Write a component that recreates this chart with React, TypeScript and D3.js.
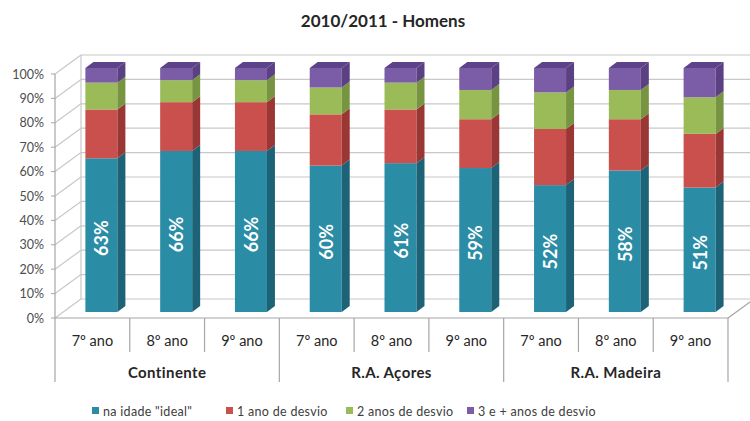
import React from "react";
import * as d3 from "d3";

const categories = ["7º ano", "8º ano", "9º ano", "7º ano", "8º ano", "9º ano", "7º ano", "8º ano", "9º ano"];
const groups = ["Continente", "R.A. Açores", "R.A. Madeira"];
const seriesNames = ['na idade "ideal"', "1 ano de desvio", "2 anos de desvio", "3 e + anos de desvio"];
const idealValues = [63, 66, 66, 60, 61, 59, 52, 58, 51];
const oneYearValues = [20, 20, 20, 21, 22, 20, 23, 21, 22];
const twoYearValues = [11, 9, 9, 11, 11, 12, 15, 12, 15];
const threePlusValues = [6, 5, 5, 8, 6, 9, 10, 9, 12];
const yTicks = [0, 10, 20, 30, 40, 50, 60, 70, 80, 90, 100];

const colors = [
  { front: "#2B8CA6", side: "#1D6377", top: "#237A91" },
  { front: "#C9504D", side: "#9A3634", top: "#B04442" },
  { front: "#9BBB59", side: "#779540", top: "#86A34A" },
  { front: "#7B5CA7", side: "#5B4084", top: "#5E4289" },
];

const FONT = "Lato, 'Open Sans', sans-serif";

export default function App() {
  const W = 750, H = 421;
  const left = 55, right = 728, y0 = 318, y100 = 74;
  const DX = 26, DY = -19; // wall depth
  const BOX = 9, BOY = -6; // bar front offset
  const BDX = 8, BDY = -6; // bar depth
  const BW = 32;

  const x = d3.scaleBand<number>().domain(d3.range(categories.length)).range([left, right]).padding(0);
  const y = d3.scaleLinear().domain([0, 100]).range([y0, y100]);

  const rows = categories.map((c, i) => ({ i, v0: idealValues[i], v1: oneYearValues[i], v2: twoYearValues[i], v3: threePlusValues[i] }));
  const stack = d3.stack<any>().keys(["v0", "v1", "v2", "v3"])(rows);

  const grid = "#C8C8C8";
  const axisC = "#A6A6A6";

  const bars: React.ReactNode[] = [];
  categories.forEach((_, i) => {
    const cx = (x(i) as number) + x.bandwidth() / 2;
    const fx = cx + BOX - BW / 2;
    stack.forEach((layer, s) => {
      const [a, b] = layer[i];
      const yt = y(b) + BOY;
      const yb = y(a) + BOY;
      const c = colors[s];
      bars.push(
        <g key={`b${i}-${s}`}>
          <rect x={fx} y={yt} width={BW} height={yb - yt} fill={c.front} />
          <polygon
            points={`${fx + BW},${yt} ${fx + BW + BDX},${yt + BDY} ${fx + BW + BDX},${yb + BDY} ${fx + BW},${yb}`}
            fill={c.side}
          />
          {s === stack.length - 1 && (
            <polygon
              points={`${fx},${yt} ${fx + BDX},${yt + BDY} ${fx + BW + BDX},${yt + BDY} ${fx + BW},${yt}`}
              fill={c.top}
            />
          )}
        </g>
      );
    });
    const ly = (y(0) + y(idealValues[i])) / 2 + BOY + 3;
    bars.push(
      <text
        key={`l${i}`}
        transform={`translate(${fx + BW / 2},${ly}) rotate(-90)`}
        textAnchor="middle"
        dominantBaseline="central"
        fill="#FFFFFF"
        fontFamily={FONT}
        fontWeight={700}
        fontSize={18}
      >
        {idealValues[i]}%
      </text>
    );
  });

  const legendX = [92, 226, 346, 467];

  return (
    <svg width={W} height={H} style={{ display: "block", position: "absolute", left: 0, top: 0 }}>
      <rect width={W} height={H} fill="#FFFFFF" />
      <text x={383} y={27} textAnchor="middle" fontFamily={FONT} fontWeight={700} fontSize={17} fill="#262626">
        2010/2011 - Homens
      </text>

      {/* back wall gridlines */}
      {yTicks.map((t) => (
        <line key={`g${t}`} x1={left + DX} x2={right + DX} y1={y(t) + DY} y2={y(t) + DY} stroke={grid} strokeWidth={1.2} />
      ))}
      {/* side wall diagonals */}
      {yTicks.map((t) => (
        <line key={`d${t}`} x1={left} x2={left + DX} y1={y(t)} y2={y(t) + DY} stroke={grid} strokeWidth={1.2} />
      ))}
      <line x1={left + DX} x2={left + DX} y1={y(100) + DY} y2={y(0) + DY} stroke={grid} strokeWidth={1.2} />
      {/* floor */}
      <line x1={right} x2={right + DX} y1={y0} y2={y0 + DY} stroke={axisC} strokeWidth={1.2} />

      {bars}

      {/* value axis */}
      <line x1={left} x2={left} y1={y100} y2={y0} stroke={axisC} strokeWidth={1.2} />
      {yTicks.map((t) => (
        <g key={`t${t}`}>
          <line x1={left - 4} x2={left} y1={y(t)} y2={y(t)} stroke={axisC} />
          <text x={left - 11} y={y(t)} textAnchor="end" dominantBaseline="central" fontFamily={FONT} fontSize={12.5} fill="#4D4D4D">
            {t}%
          </text>
        </g>
      ))}

      {/* category axis */}
      <line x1={left} x2={right} y1={y0} y2={y0} stroke={axisC} strokeWidth={1.2} />
      {d3.range(categories.length + 1).map((k) => {
        const xx = k < categories.length ? (x(k) as number) : right;
        const isGroup = k % 3 === 0;
        return <line key={`s${k}`} x1={xx} x2={xx} y1={y0} y2={isGroup ? 382 : 352} stroke={axisC} strokeWidth={1.2} />;
      })}
      {categories.map((c, i) => (
        <text key={`c${i}`} x={(x(i) as number) + x.bandwidth() / 2} y={340} textAnchor="middle" dominantBaseline="central" fontFamily={FONT} fontSize={14.5} fill="#262626">
          {c}
        </text>
      ))}
      {groups.map((g, gi) => (
        <text key={`gr${gi}`} x={((x(gi * 3) as number) + (x(gi * 3 + 2) as number) + x.bandwidth()) / 2} y={372} textAnchor="middle" dominantBaseline="central" fontFamily={FONT} fontSize={15} fontWeight={700} fill="#262626" letterSpacing={0.4}>
          {g}
        </text>
      ))}

      {/* legend */}
      {seriesNames.map((n, k) => (
        <g key={`lg${k}`}>
          <rect x={legendX[k]} y={407} width={7} height={7} fill={colors[k].front} />
          <text x={legendX[k] + 11} y={411} dominantBaseline="central" fontFamily={FONT} fontSize={12.5} fill="#404040" letterSpacing={0.3}>
            {n}
          </text>
        </g>
      ))}
    </svg>
  );
}
